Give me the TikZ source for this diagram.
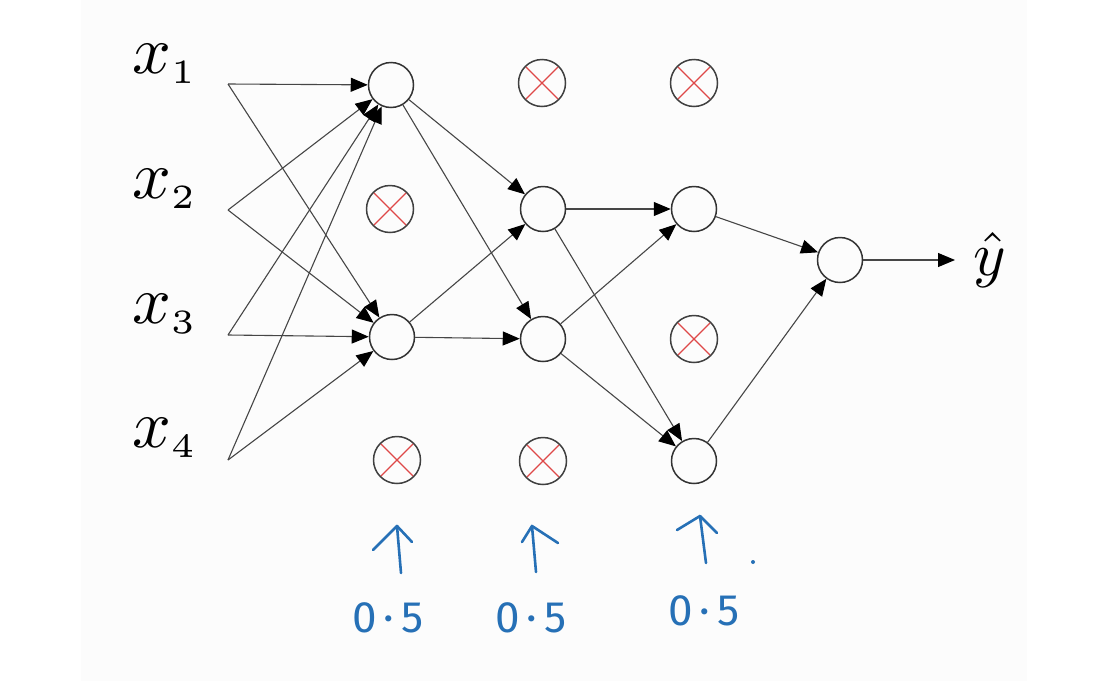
\documentclass[tikz,border=0pt]{standalone}
\usepackage{fontspec}
\usetikzlibrary{arrows.meta}
\newfontfamily\handfont{Fira Sans}
\definecolor{handblue}{RGB}{38,112,182}
\definecolor{dropred}{RGB}{222,72,72}
\definecolor{panel}{RGB}{252,252,252}
\definecolor{edgegray}{RGB}{70,70,70}
\begin{document}
\begin{tikzpicture}[x=1pt,y=-1pt,
  neuron/.style={circle,draw=black!80,line width=1.5pt,minimum size=45pt,inner sep=0pt},
  dropped/.style={circle,draw=black!75,line width=1.5pt,minimum size=47pt,inner sep=0pt,
    path picture={\draw[dropred,line width=1.3pt]
      (path picture bounding box.south west) -- (path picture bounding box.north east)
      (path picture bounding box.north west) -- (path picture bounding box.south east);}},
  link/.style={draw=edgegray,line width=1.1pt,-{Triangle[length=17pt,width=14pt,fill=black,color=black]}},
  inlabel/.style={anchor=base west,inner sep=0pt,scale=6.8},
  hand/.style={draw=handblue,line width=2.6pt,line cap=round,line join=round},
  handtext/.style={text=handblue,inner sep=0pt,anchor=base,font=\handfont\fontsize{44}{44}\selectfont}]
\fill[white] (0,0) rectangle (1106,686);
\fill[panel] (81,0) rectangle (1027,681);
\useasboundingbox (0,0) rectangle (1106,686);

% input labels
\node[inlabel] (x1) at (131,73) {$x_{\scriptscriptstyle 1}$};
\node[inlabel] (x2) at (131,198) {$x_{\scriptscriptstyle 2}$};
\node[inlabel] (x3) at (131,323) {$x_{\scriptscriptstyle 3}$};
\node[inlabel] (x4) at (131,447) {$x_{\scriptscriptstyle 4}$};
\coordinate (i1) at (228,84);
\coordinate (i2) at (228,210);
\coordinate (i3) at (228,335);
\coordinate (i4) at (228,460);

% layer 1
\node[neuron] (h11) at (391,85) {};
\node[dropped] (d12) at (390,209) {};
\node[neuron] (h13) at (392,337) {};
\node[dropped] (d14) at (397,460) {};
% layer 2
\node[dropped] (d21) at (542,83) {};
\node[neuron] (h22) at (543,209) {};
\node[neuron] (h23) at (543,339) {};
\node[dropped] (d24) at (543,461) {};
% layer 3
\node[dropped] (d31) at (694,83) {};
\node[neuron] (h32) at (694,209) {};
\node[dropped] (d33) at (694,339) {};
\node[neuron] (h34) at (694,461) {};
% output
\node[neuron] (out) at (840,260) {};
\node[anchor=base west,inner sep=0pt,scale=6.2] (yhat) at (972,275) {$\hat{y}$};
\coordinate (ytip) at (955,260);

% connections
\foreach \i in {1,...,4}{
  \draw[link] (i\i) -- (h11);
  \draw[link] (i\i) -- (h13);
}
\draw[link] (h11) -- (h22);
\draw[link] (h11) -- (h23);
\draw[link] (h13) -- (h22);
\draw[link] (h13) -- (h23);
\draw[link] (h22) -- (h32);
\draw[link] (h22) -- (h34);
\draw[link] (h23) -- (h32);
\draw[link] (h23) -- (h34);
\draw[link] (h32) -- (out);
\draw[link] (h34) -- (out);
\draw[link] (out) -- (ytip);

% hand-drawn keep-probability annotations
\coordinate (a1b) at (401,573); \coordinate (a1t) at (397,526);
\coordinate (a1l) at (373,550); \coordinate (a1r) at (412,542);
\coordinate (a2b) at (536,572); \coordinate (a2t) at (532,526);
\coordinate (a2l) at (522,542); \coordinate (a2r) at (558,543);
\coordinate (a3b) at (706,563); \coordinate (a3t) at (700,516);
\coordinate (a3l) at (677,530); \coordinate (a3r) at (717,533);
\draw[hand] (a1b) -- (a1t);
\draw[hand] (a1l) -- (a1t) -- (a1r);
\draw[hand] (a2b) -- (a2t);
\draw[hand] (a2l) -- (a2t) -- (a2r);
\draw[hand] (a3b) -- (a3t);
\draw[hand] (a3l) -- (a3t) -- (a3r);
\coordinate (dot) at (753,562);
\fill[handblue] (dot) circle (2pt);
\node[handtext] (p1) at (388,632) {0\,·\,5};
\node[handtext] (p2) at (531,632) {0\,·\,5};
\node[handtext] (p3) at (704,625) {0\,·\,5};
\end{tikzpicture}
\end{document}
